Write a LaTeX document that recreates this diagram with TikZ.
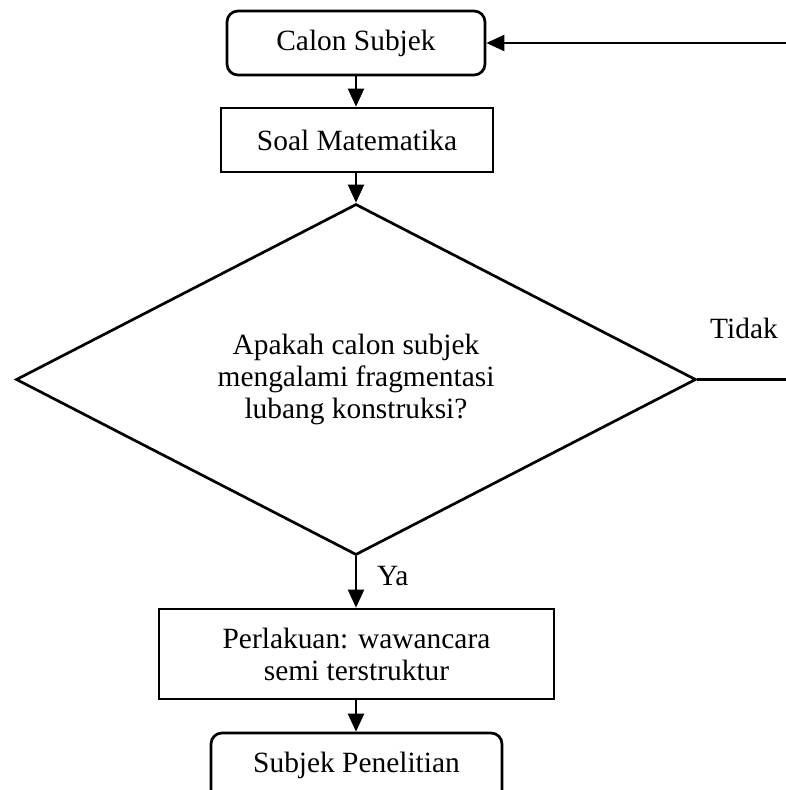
\documentclass[tikz,border=0pt]{standalone}
\usepackage{fontspec}
\setmainfont{Liberation Serif}
\usetikzlibrary{arrows.meta,shapes.geometric}
\begin{document}
\begin{tikzpicture}[x=1pt,y=-1pt,
  font=\fontsize{29.4}{32}\selectfont,
  every node/.style={inner sep=0pt},
  box/.style={draw,line width=2.7pt,align=center},
  roundbox/.style={box,rounded corners=11pt},
  link/.style={line width=2.2pt,-{Triangle[length=18pt,width=16pt]}},
  plain/.style={line width=2.7pt}]
\useasboundingbox (0,0) rectangle (786,790);
\clip (0,0) rectangle (786,790);
% process steps
\node[roundbox,minimum width=258pt,minimum height=64pt] (calon) at (356,43) {Calon Subjek};
\node[box,minimum width=272pt,minimum height=64pt] (soal) at (357,140) {Soal Matematika};
\node[draw,line width=2.7pt,shape=diamond,aspect=1.937,minimum width=680pt,minimum height=351pt,align=center]
  (dec) at (356,379.5) {Apakah calon subjek\\mengalami fragmentasi\\lubang konstruksi?};
\node[box,minimum width=395pt,minimum height=90pt] (treat) at (356.5,654) {Perlakuan: wawancara\\semi terstruktur};
\node[roundbox,minimum width=291pt,minimum height=90pt] (res) at (356.5,778) {};
\node (restext) at (356.5,765) {Subjek Penelitian};
% main flow
\draw[link] (calon.south -| dec.north) -- (soal.north -| dec.north);
\draw[link] (soal.south -| dec.north) -- (dec.north);
\draw[link] (dec.south) -- (dec.south |- treat.north);
\draw[link] (treat.south -| dec.north) -- (res.north -| dec.north);
% loop back when the answer is no
\coordinate (turn) at (800,379.5);
\coordinate (top) at (800,43);
\draw[plain] (dec.east) -- (turn) -- (top);
\draw[link] (top) -- (calon.east);
% branch labels
\node[anchor=base west] (ya) at (377,585) {Ya};
\node[anchor=base west] (tidak) at (710,338) {Tidak};
\end{tikzpicture}
\end{document}
